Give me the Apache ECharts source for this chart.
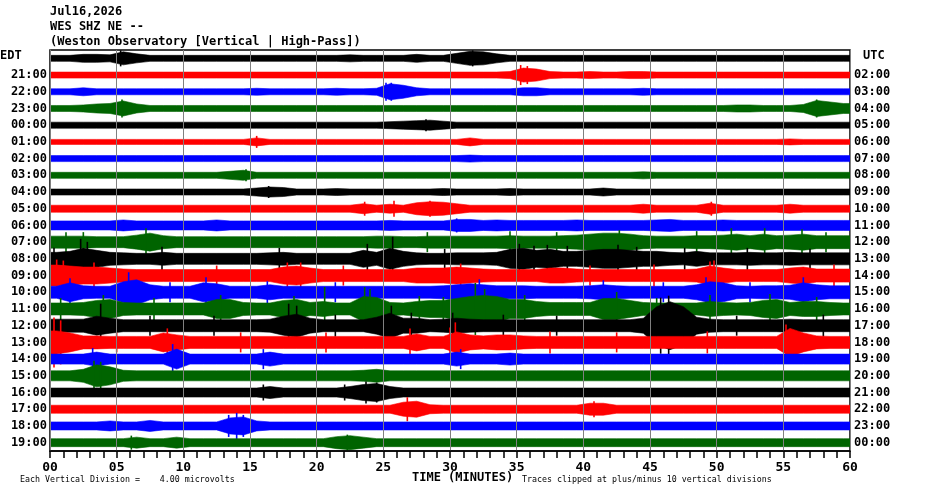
<!DOCTYPE html>
<html>
<head>
<meta charset="utf-8">
<script src="https://cdn.jsdelivr.net/npm/echarts@6/dist/echarts.min.js"></script>
<style>
html, body { margin: 0; padding: 0; background: #fff; }
#helicorder { width: 930px; height: 494px; }
</style>
</head>
<body>
<div id="helicorder"></div>
<script>
// row labels, local time on the left, UTC on the right
var edtLabels = ['EDT', '21:00', '22:00', '23:00', '00:00', '01:00', '02:00', '03:00', '04:00', '05:00', '06:00', '07:00',
    '08:00', '09:00', '10:00', '11:00', '12:00', '13:00', '14:00', '15:00', '16:00', '17:00', '18:00', '19:00'];
var utcLabels = ['UTC', '02:00', '03:00', '04:00', '05:00', '06:00', '07:00', '08:00', '09:00', '10:00', '11:00', '12:00',
    '13:00', '14:00', '15:00', '16:00', '17:00', '18:00', '19:00', '20:00', '21:00', '22:00', '23:00', '00:00'];
var minuteTicks = ['00', '05', '10', '15', '20', '25', '30', '35', '40', '45', '50', '55', '60'];
var traceColors = ['#000000', '#ff0000', '#0000ff', '#006400'];

// half height of each trace, per minute, in microvolts
var amp2000 = [6,6,8,8,7,13,9,6,6,6, 6,6,6,6,6,6,6,6,6,6, 6,6,7,6,6,6,6,8,6,6, 10,14,13,9,6,6,6,6,6,6, 6,6,6,6,6,6,6,6,6,6, 6,6,6,6,6,6,6,6,6,6];
var amp2100 = [6,6,6,6,6,6,6,6,6,6, 6,6,6,6,6,6,6,6,6,6, 6,6,6,6,6,6,6,6,6,6, 6,6,6,6,7,14,12,7,6,6, 7,6,6,7,7,6,6,6,6,6, 6,6,6,6,6,6,6,6,6,6];
var amp2200 = [6,6,8,6,6,6,6,6,6,6, 6,6,6,6,6,7,6,6,6,6, 6,7,6,6,7,16,13,8,6,6, 6,6,6,6,6,8,8,6,6,6, 6,6,6,6,7,6,6,6,6,6, 6,6,6,6,6,6,6,6,6,6];
var amp2300 = [6,6,7,9,10,15,9,6,6,6, 6,6,6,6,6,6,6,6,6,6, 6,6,6,6,6,6,6,6,6,6, 6,6,6,6,6,6,6,6,6,6, 6,6,6,6,6,6,6,6,6,6, 6,7,7,6,6,6,8,16,13,10];
var amp0000 = [6,6,6,6,6,6,6,6,6,6, 6,6,6,6,6,6,6,6,6,6, 6,6,6,6,6,7,8,9,10,8, 6,6,6,6,6,6,6,6,6,6, 6,6,6,6,6,6,6,6,6,6, 6,6,6,6,6,6,6,6,6,6];
var amp0100 = [5,5,5,5,5,5,5,5,5,5, 5,5,5,5,5,8,5,5,5,5, 5,5,5,5,5,5,5,5,5,5, 5,8,5,5,5,5,5,5,5,5, 5,5,5,5,5,5,5,5,5,5, 5,5,5,5,5,6,5,5,5,5];
var amp0200 = [6,6,6,6,6,6,6,6,6,6, 6,6,6,6,6,6,6,6,6,6, 6,6,6,6,6,6,6,6,6,6, 6,7,6,6,6,6,6,6,6,6, 6,6,6,6,6,6,6,6,6,6, 6,6,6,6,6,6,6,6,6,6];
var amp0300 = [6,6,6,6,6,6,6,6,6,6, 6,6,6,8,10,6,6,6,6,6, 6,6,6,6,6,6,6,6,6,6, 6,6,6,6,6,6,6,6,6,6, 6,6,6,6,7,6,6,6,6,6, 6,6,6,6,6,6,6,6,6,6];
var amp0400 = [6,6,6,6,6,6,6,6,6,6, 6,6,6,6,6,8,10,9,6,6, 6,7,6,6,6,6,6,6,6,7, 6,6,6,6,7,6,6,6,6,6, 6,8,6,6,6,6,6,6,6,6, 6,6,6,6,6,6,6,6,6,6];
var amp0500 = [7,7,7,7,7,7,7,7,7,7, 7,7,7,7,7,7,7,7,7,7, 7,7,7,10,7,9,7,12,14,13, 10,7,7,7,7,7,7,7,7,7, 7,7,7,7,9,7,7,7,7,11, 7,7,7,7,7,9,7,7,7,7];
var amp0600 = [9,9,9,9,9,11,9,9,9,9, 9,9,11,9,9,9,9,9,9,9, 9,9,9,9,9,10,9,9,9,9, 12,12,10,11,10,10,10,10,10,11, 10,10,10,10,10,11,12,10,10,10, 11,10,10,10,10,10,10,10,10,10];
var amp0700 = [12,12,12,11,11,11,14,18,13,11, 11,11,11,11,11,11,11,11,11,11, 11,11,11,11,12,12,11,11,12,12, 12,12,12,12,13,12,12,12,13,14, 16,18,18,16,13,12,12,12,13,13, 14,16,13,16,13,14,16,13,13,13];
var amp0800 = [13,15,21,17,13,12,11,11,13,11, 11,11,11,11,11,11,12,13,11,11, 11,11,11,17,13,21,15,12,11,11, 12,12,12,13,19,21,17,19,15,15, 17,19,19,17,15,15,13,12,15,12, 12,12,13,12,12,13,12,12,12,12];
var amp0900 = [21,19,17,17,15,13,12,12,12,12, 12,12,12,12,12,12,12,17,19,15, 12,12,12,12,12,12,12,15,15,15, 17,15,13,12,12,12,12,15,15,13, 12,12,12,12,12,12,12,12,13,19, 15,12,12,12,12,15,17,13,13,13];
var amp1000 = [12,19,13,12,12,21,25,15,12,12, 12,19,17,12,12,12,15,12,12,12, 12,12,12,12,12,12,12,12,12,13, 15,17,15,13,13,13,12,12,12,12, 13,15,13,12,12,12,12,12,15,21, 19,13,12,13,13,14,19,15,13,13];
var amp1100 = [12,12,13,17,19,13,12,12,12,12, 12,12,19,19,13,12,12,17,19,13, 15,12,12,25,23,13,12,15,17,17, 21,25,27,25,19,19,15,13,13,13, 13,21,21,17,13,12,12,12,12,15, 13,12,13,17,19,13,15,15,13,12];
var amp1200 = [13,13,13,19,15,12,12,12,12,12, 12,12,12,12,12,12,13,19,23,15, 12,12,12,12,17,25,15,15,12,13, 15,13,12,12,12,12,12,12,12,12, 12,12,12,12,15,38,48,38,17,13, 12,12,12,12,12,13,12,12,12,12];
var amp1300 = [23,19,13,13,12,12,12,12,19,15, 12,12,12,12,12,12,12,12,12,12, 12,12,12,12,12,12,12,17,12,12, 21,15,13,15,15,13,12,12,12,12, 12,12,12,12,12,12,12,12,12,12, 12,12,12,12,12,28,19,13,12,12];
var amp1400 = [10,10,10,14,10,10,10,10,10,20, 10,10,10,10,10,10,14,10,10,10, 10,10,10,10,10,10,10,10,10,10, 14,10,10,10,12,10,10,10,10,10, 10,10,10,10,10,10,10,10,10,10, 10,10,10,10,10,10,10,10,10,10];
var amp1500 = [10,10,13,22,18,11,10,10,10,10, 10,10,10,10,10,10,10,10,10,10, 10,10,10,11,13,10,10,10,10,10, 10,10,10,10,10,10,10,10,10,10, 10,10,10,10,10,10,10,10,10,10, 10,10,10,10,10,10,10,10,10,10];
var amp1600 = [9,9,9,9,9,9,9,9,9,9, 9,9,9,9,9,9,12,9,9,9, 9,9,12,16,18,12,9,9,9,9, 9,9,9,9,9,9,9,9,9,9, 9,9,9,9,9,9,9,9,9,9, 9,9,9,9,9,9,9,9,9,9];
var amp1700 = [8,8,8,8,8,8,8,8,8,8, 8,8,8,8,8,8,8,8,8,8, 8,8,8,8,8,8,14,16,9,8, 8,8,8,8,8,8,8,8,8,8, 12,12,8,8,8,8,8,8,8,8, 8,8,8,8,8,8,8,8,8,8];
var amp1800 = [8,8,8,8,10,8,8,11,8,8, 8,8,8,16,18,10,8,8,8,8, 8,8,8,8,8,8,8,8,8,8, 8,8,8,8,8,8,8,8,8,8, 8,8,8,8,8,8,8,8,8,8, 8,8,8,8,8,8,8,8,8,8];
var amp1900 = [8,8,8,8,8,8,11,8,8,11, 8,8,8,8,8,8,8,8,8,8, 8,12,14,11,8,8,8,8,8,8, 8,8,8,8,8,8,8,8,8,8, 8,8,8,8,8,8,8,8,8,8, 8,8,8,8,8,8,8,8,8,8];

// single tall peaks: [minute, microvolts]
var spk2000 = [[5.3, 16], [31.7, 16]];
var spk2100 = [[35.3, 20], [35.8, 18]];
var spk2200 = [[25.2, 18], [25.6, 18]];
var spk2300 = [[5.4, 18], [57.5, 18]];
var spk0000 = [[28.2, 12]];
var spk0100 = [[15.5, 12]];
var spk0200 = [];
var spk0300 = [[14.7, 12]];
var spk0400 = [[16.4, 12]];
var spk0500 = [[23.6, 14], [25.8, 16], [28.5, 16], [49.6, 14]];
var spk0600 = [[30.5, 14]];
var spk0700 = [[1.2, 20], [2.5, 20], [7.2, 28], [28.3, 20], [34.5, 22], [38.0, 20], [42.7, 24], [48.5, 22], [51.1, 28], [53.6, 28], [56.4, 26], [58.2, 20]];
var spk0800 = [[0.3, 22], [2.3, 40], [2.8, 34], [8.4, 24], [17.2, 22], [23.8, 30], [25.7, 44], [29.6, 20], [35.2, 30], [36.3, 26], [37.3, 28],
    [38.8, 26], [42.6, 28], [44.0, 24], [47.6, 22], [52.3, 22], [57.0, 20]];
var spk0900 = [[0.5, 32], [1.0, 30], [3.3, 26], [12.5, 20], [17.8, 26], [18.8, 26], [22.0, 20], [30.8, 24], [40.5, 20], [45.3, 22], [49.5, 28], [49.8, 30], [58.8, 22]];
var spk1000 = [[1.5, 28], [5.9, 40], [9.0, 20], [11.7, 30], [16.3, 22], [21.4, 20], [32.2, 26], [41.5, 24], [46.0, 20], [49.2, 30], [52.5, 20], [56.5, 30]];
var spk1100 = [[0.8, 22], [4.0, 28], [7.8, 22], [12.8, 28], [18.3, 26], [20.6, 44], [23.6, 44], [24.0, 40], [27.7, 26], [29.5, 24], [31.9, 52],
    [32.6, 40], [35.6, 28], [42.5, 34], [45.5, 22], [49.5, 28], [54.0, 30], [57.5, 24]];
var spk1200 = [[3.8, 44], [7.5, 20], [12.3, 20], [17.9, 44], [18.5, 40], [21.4, 22], [25.6, 40], [27.1, 26], [30.2, 26], [34.0, 22], [38.0, 20],
    [45.8, 56], [46.4, 60], [51.5, 20], [58.0, 22]];
var spk1300 = [[0.3, 50], [0.8, 44], [5.0, 20], [8.8, 28], [14.3, 20], [20.7, 20], [27.0, 28], [30.0, 30], [30.4, 40], [37.5, 22], [42.5, 20],
    [49.3, 22], [55.2, 36]];
var spk1400 = [[3.2, 22], [9.2, 30], [16.0, 20], [30.8, 20]];
var spk1500 = [[3.3, 30], [3.8, 28]];
var spk1600 = [[16.0, 16], [22.1, 16], [23.7, 22], [24.5, 20]];
var spk1700 = [[26.8, 24], [40.8, 16]];
var spk1800 = [[13.4, 22], [14.0, 26], [14.5, 22]];
var spk1900 = [[6.1, 14], [22.3, 16]];

var traceAmps = [amp2000, amp2100, amp2200, amp2300, amp0000, amp0100, amp0200, amp0300, amp0400, amp0500, amp0600, amp0700,
    amp0800, amp0900, amp1000, amp1100, amp1200, amp1300, amp1400, amp1500, amp1600, amp1700, amp1800, amp1900];
var traceSpikes = [spk2000, spk2100, spk2200, spk2300, spk0000, spk0100, spk0200, spk0300, spk0400, spk0500, spk0600, spk0700,
    spk0800, spk0900, spk1000, spk1100, spk1200, spk1300, spk1400, spk1500, spk1600, spk1700, spk1800, spk1900];

var ROW_UV = 33.4; // vertical offset between traces, microvolts
var FONT = 'DejaVu Sans Mono';

var dom = document.getElementById('helicorder');
var myChart = echarts.init(dom, null, { renderer: 'canvas' });

function traceRenderer(row) {
    return function (params, api) {
        var amp = traceAmps[row];
        var mid = (row + 0.5) * ROW_UV;
        var top = [], bottom = [];
        var xs = [0];
        var vs = [amp[0]];
        for (var i = 0; i < amp.length; i++) { xs.push(i + 0.5); vs.push(amp[i]); }
        xs.push(60); vs.push(amp[amp.length - 1]);
        for (var j = 0; j < xs.length; j++) {
            top.push(api.coord([xs[j], mid - vs[j]]));
            bottom.unshift(api.coord([xs[j], mid + vs[j]]));
        }
        var color = traceColors[row % 4];
        var children = [{
            type: 'polygon',
            shape: { points: top.concat(bottom) },
            style: { fill: color, stroke: color, lineWidth: 0.6 }
        }];
        traceSpikes[row].forEach(function (s) {
            var p1 = api.coord([s[0], mid - s[1]]);
            var p2 = api.coord([s[0], mid + s[1]]);
            children.push({
                type: 'line',
                shape: { x1: p1[0], y1: p1[1], x2: p2[0], y2: p2[1] },
                style: { stroke: color, lineWidth: 1.6 }
            });
        });
        return { type: 'group', children: children };
    };
}

var series = [];
for (var r = 0; r < traceAmps.length; r++) {
    series.push({
        type: 'custom',
        name: edtLabels[r],
        xAxisIndex: 0,
        yAxisIndex: 2,
        clip: true,
        silent: true,
        renderItem: traceRenderer(r),
        data: [[30, (r + 0.5) * ROW_UV]]
    });
}

var option = {
    animation: false,
    backgroundColor: '#ffffff',
    grid: { left: 50, right: 80, top: 50, bottom: 43, show: true, borderColor: '#000', borderWidth: 1.5 },
    xAxis: {
        type: 'value',
        position: 'bottom',
        min: 0,
        max: 60,
        interval: 5,
        z: 10,
        axisLine: { onZero: false, lineStyle: { color: '#000', width: 1.5 } },
        axisTick: { length: 7, lineStyle: { color: '#000', width: 1.5 } },
        minorTick: { show: true, splitNumber: 5, length: 7, lineStyle: { color: '#000', width: 1.5 } },
        splitLine: { show: true, lineStyle: { color: '#808080', width: 1 } },
        axisLabel: {
            margin: 10,
            color: '#000',
            fontFamily: FONT,
            fontWeight: 'bold',
            fontSize: 13,
            formatter: function (v) { return minuteTicks[Math.round(v / 5)]; }
        }
    },
    yAxis: [
        {
            type: 'category',
            data: edtLabels.map(function (l, i) { return i === 0 ? '' : l; }),
            inverse: true,
            position: 'left',
            z: 10,
            axisLine: { onZero: false, lineStyle: { color: '#808080', width: 1 } },
            axisTick: { show: false },
            axisLabel: { margin: 3, color: '#000', fontFamily: FONT, fontWeight: 'bold', fontSize: 12 }
        },
        {
            type: 'category',
            data: utcLabels.map(function (l, i) { return i === 0 ? '' : l; }),
            inverse: true,
            position: 'right',
            z: 10,
            axisLine: { onZero: false, lineStyle: { color: '#808080', width: 1 } },
            axisTick: { show: false },
            axisLabel: { margin: 4, color: '#000', fontFamily: FONT, fontWeight: 'bold', fontSize: 12 }
        },
        {
            type: 'value',
            show: false,
            inverse: true,
            min: 0,
            max: 24 * ROW_UV,
            splitLine: { show: false }
        }
    ],
    graphic: [
        { type: 'text', left: 50, top: 6, style: { text: 'Jul16,2026', font: 'bold 12px ' + FONT, fill: '#000' } },
        { type: 'text', left: 50, top: 21, style: { text: 'WES SHZ NE --', font: 'bold 12px ' + FONT, fill: '#000' } },
        { type: 'text', left: 50, top: 36, style: { text: '(Weston Observatory [Vertical | High-Pass])', font: 'bold 12px ' + FONT, fill: '#000' } },
        { type: 'text', left: 0, top: 50, style: { text: 'EDT', font: 'bold 12px ' + FONT, fill: '#000' } },
        { type: 'text', left: 863, top: 50, style: { text: 'UTC', font: 'bold 12px ' + FONT, fill: '#000' } },
        { type: 'text', left: 412, top: 472, style: { text: 'TIME (MINUTES)', font: 'bold 12px ' + FONT, fill: '#000' } },
        { type: 'text', left: 20, top: 476, style: { text: 'Each Vertical Division =    4.00 microvolts', font: '8.3px ' + FONT, fill: '#000' } },
        { type: 'text', left: 522, top: 476, style: { text: 'Traces clipped at plus/minus 10 vertical divisions', font: '8.3px ' + FONT, fill: '#000' } }
    ],
    series: series
};

if (option && typeof option === 'object') {
    myChart.setOption(option);
}

window.addEventListener('resize', myChart.resize);
</script>
</body>
</html>
